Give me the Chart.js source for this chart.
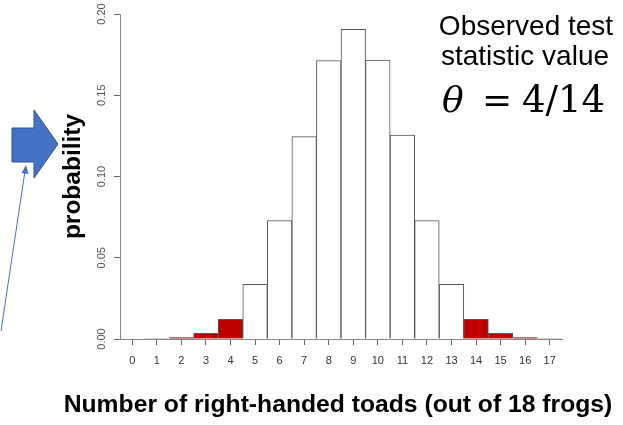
<!DOCTYPE html>
<html>
<head>
<meta charset="utf-8">
<script src="https://cdn.jsdelivr.net/npm/chart.js@4/dist/chart.umd.min.js"></script>
<style>
  html, body { margin: 0; padding: 0; background: #fff; }
  #myChart { display: block; }
</style>
</head>
<body>
<canvas id="myChart" width="623" height="425"></canvas>
<script>
// number of right-handed toads and the probability
const counts = ['0', '1', '2', '3', '4', '5', '6', '7', '8', '9', '10', '11', '12', '13', '14', '15', '16', '17'];
const probs = [0.0000, 0.0001, 0.0008, 0.0035, 0.0121, 0.0337, 0.0728, 0.1245, 0.1713, 0.1906,
               0.1717, 0.1255, 0.0728, 0.0337, 0.0121, 0.0035, 0.0008, 0.0001];
// counts as extreme as the observed one (shaded red)
const tailCounts = ['2', '3', '4', '14', '15', '16'];
const yTicks = [0, 0.05, 0.10, 0.15, 0.20];
const xTitle = 'Number of right-handed toads (out of 18 frogs)';

const sansFont = '"Liberation Sans", Arial, Helvetica, sans-serif';
const mathFont = '"DejaVu Serif", "Liberation Serif", serif';

window.onload = function () {
    const fills = counts.map(c => tailCounts.includes(c) ? '#c00000' : '#ffffff');

    // y tick labels rotated like R does, x title (chart.js would squeeze it), slide decorations
    const extras = {
        id: 'extras',
        afterDraw(chart) {
            const ctx = chart.ctx;
            const y = chart.scales.y;
            ctx.save();
            ctx.fillStyle = '#555';
            ctx.font = '11px ' + sansFont;
            ctx.textAlign = 'center';
            ctx.textBaseline = 'middle';
            yTicks.forEach(v => {
                const py = y.getPixelForValue(v);
                ctx.save();
                ctx.translate(102, py);
                ctx.rotate(-Math.PI / 2);
                ctx.fillText(v.toFixed(2), 0, 0);
                ctx.restore();
            });
            ctx.restore();

            ctx.save();
            ctx.fillStyle = '#000';
            ctx.font = 'bold 24.7px ' + sansFont;
            ctx.textAlign = 'center';
            ctx.textBaseline = 'alphabetic';
            ctx.fillText(xTitle, 338, 412);
            ctx.restore();

            // block arrow
            ctx.save();
            ctx.beginPath();
            ctx.moveTo(12, 128);
            ctx.lineTo(34, 128);
            ctx.lineTo(34, 110);
            ctx.lineTo(58, 144);
            ctx.lineTo(34, 178);
            ctx.lineTo(34, 162);
            ctx.lineTo(12, 162);
            ctx.closePath();
            ctx.fillStyle = '#4472c4';
            ctx.fill();
            ctx.strokeStyle = '#2f528f';
            ctx.lineWidth = 1;
            ctx.stroke();

            // thin pointer line
            ctx.strokeStyle = '#4472c4';
            ctx.lineWidth = 1;
            ctx.beginPath();
            ctx.moveTo(1, 331);
            ctx.lineTo(25, 171);
            ctx.stroke();
            ctx.beginPath();
            ctx.moveTo(26, 165);
            ctx.lineTo(21.5, 173);
            ctx.lineTo(28.5, 174);
            ctx.closePath();
            ctx.fillStyle = '#4472c4';
            ctx.fill();
            ctx.restore();

            // annotation text
            ctx.save();
            ctx.fillStyle = '#000';
            ctx.textBaseline = 'alphabetic';
            ctx.textAlign = 'center';
            ctx.font = '28px ' + sansFont;
            ctx.fillText('Observed test', 526, 35);
            ctx.fillText('statistic value', 525, 65);
            ctx.textAlign = 'left';
            ctx.font = 'italic 36px ' + mathFont;
            ctx.fillText('θ', 442, 112);
            ctx.font = '36px ' + mathFont;
            ctx.fillText('=', 482, 112);
            ctx.font = '37px ' + mathFont;
            ctx.fillText('4/14', 522, 112);
            ctx.restore();
        }
    };

    const data = {
        labels: counts,
        datasets: [{
            label: 'probability',
            data: probs,
            backgroundColor: fills,
            borderColor: '#555',
            borderWidth: 1,
            barPercentage: 1,
            categoryPercentage: 1
        }]
    };

    const config = {
        type: 'bar',
        data: data,
        plugins: [extras],
        options: {
            responsive: false,
            devicePixelRatio: 1,
            animation: false,
            layout: { padding: { top: 14, right: 61, left: 0, bottom: 0 } },
            plugins: {
                legend: { display: false },
                tooltip: { enabled: false }
            },
            scales: {
                x: {
                    afterFit: function (scale) { scale.height = 86; },
                    grid: {
                        offset: false,
                        drawOnChartArea: false,
                        tickLength: 6,
                        color: '#666'
                    },
                    border: { display: true, color: '#888' },
                    ticks: {
                        color: '#333',
                        font: { family: sansFont, size: 11 },
                        padding: 9,
                        maxRotation: 0,
                        autoSkip: false
                    }
                },
                y: {
                    min: 0,
                    max: 0.2,
                    afterFit: function (scale) { scale.width = 120; },
                    afterBuildTicks: function (scale) {
                        scale.ticks = yTicks.map(v => ({ value: v }));
                    },
                    grid: {
                        drawOnChartArea: false,
                        tickLength: 6,
                        color: '#666'
                    },
                    border: { display: true, color: '#888' },
                    ticks: { display: false },
                    title: {
                        display: true,
                        text: 'probability',
                        color: '#000',
                        font: { family: sansFont, size: 24.5, weight: 'bold' },
                        padding: { top: 59, bottom: 0 }
                    }
                }
            }
        }
    };

    const myChart = new Chart(document.getElementById('myChart'), config);
};
</script>
</body>
</html>
